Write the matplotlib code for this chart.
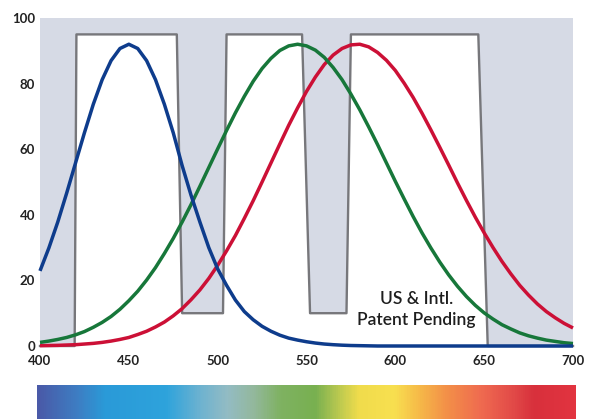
import numpy as np
import matplotlib
matplotlib.use("Agg")
import matplotlib.pyplot as plt
from matplotlib.colors import LinearSegmentedColormap

# ---------------- data ----------------
wavelength = list(range(400, 701, 5))

blue = [22.9, 29.9, 37.8, 46.6, 55.8, 65.0, 73.7, 81.2, 87.0, 90.7,
        92.0, 90.7, 87.0, 81.2, 73.7, 65.0, 55.0, 46.0, 37.8, 30.0,
        23.5, 18.5, 14.0, 10.5, 8.0, 6.0, 4.5, 3.3, 2.4, 1.8,
        1.3, 0.9, 0.6, 0.4, 0.25, 0.15, 0.1, 0.05, 0, 0,
        0, 0, 0, 0, 0, 0, 0, 0, 0, 0,
        0, 0, 0, 0, 0, 0, 0, 0, 0, 0, 0]

green = [1.1, 1.5, 2.0, 2.6, 3.4, 4.4, 5.7, 7.2, 9.0, 11.2,
         13.8, 16.7, 20.1, 23.9, 28.2, 32.8, 37.8, 43.1, 48.7, 54.4,
         60.1, 65.7, 71.1, 76.1, 80.7, 84.6, 87.7, 90.1, 91.5, 92.0,
         91.5, 90.2, 88.0, 84.9, 81.2, 76.8, 72.0, 66.8, 61.4, 55.8,
         50.2, 44.8, 39.5, 34.5, 29.9, 25.6, 21.7, 18.2, 15.1, 12.4,
         10.1, 8.2, 6.5, 5.2, 4.0, 3.1, 2.4, 1.8, 1.4, 1.0, 0.75]

red = [0.1, 0.15, 0.2, 0.3, 0.4, 0.6, 0.8, 1.1, 1.5, 2.0,
       2.6, 3.5, 4.5, 5.8, 7.3, 9.2, 11.4, 14.1, 17.1, 20.6,
       24.6, 29.0, 33.7, 38.9, 44.3, 50.0, 55.8, 61.6, 67.3, 72.6,
       77.6, 82.0, 85.8, 88.7, 90.7, 91.8, 92.0, 91.2, 89.5, 87.1,
       84.0, 80.1, 75.8, 71.0, 65.9, 60.6, 55.2, 49.7, 44.4, 39.3,
       34.5, 30.0, 25.8, 22.0, 18.5, 15.5, 12.8, 10.5, 8.6, 6.9, 5.5]

filter_nm = [400, 419.5, 420.5, 477, 480, 503, 505, 547.5, 552, 572.5, 575, 646.7, 652, 700]
filter_pct = [0, 0, 95, 95, 10, 10, 95, 95, 10, 10, 95, 95, 0, 0]

x_ticks = [400, 450, 500, 550, 600, 650, 700]
y_ticks = [0, 20, 40, 60, 80, 100]

spectrum_nm = [397, 420, 435, 470, 490, 505, 520, 535, 555, 568, 580, 600, 615, 630, 650, 668, 680, 703]
spectrum_col = ["#4a5aa8", "#3d7fc4", "#2a9ad8", "#2ea3dc", "#6fb3d0", "#93bcc4", "#93b89c",
                "#7fb262", "#78b050", "#b8c850", "#f0dc4c", "#f8e050", "#f6b848", "#f39048",
                "#ef6a50", "#e24a48", "#d8303c", "#e23440"]

note = "US & Intl.\nPatent Pending"

# ---------------- figure ----------------
W, H = 593, 419
fig = plt.figure(figsize=(W / 100, H / 100), dpi=100, facecolor="white")

ax = fig.add_axes([40 / W, (H - 346) / H, (573 - 40) / W, (346 - 18) / H])
ax.set_facecolor("#d6dae5")
ax.set_xlim(400, 700)
ax.set_ylim(0, 100)
for s in ax.spines.values():
    s.set_visible(False)

ax.fill_between(filter_nm, 0, filter_pct, color="white", zorder=1, lw=0)
ax.plot(filter_nm, filter_pct, color="#77777b", lw=1.7, zorder=2, clip_on=False)

ax.plot(wavelength, red, color="#cc1036", lw=2.5, zorder=3, clip_on=False, solid_capstyle="butt")
ax.plot(wavelength, green, color="#17773a", lw=2.5, zorder=4, clip_on=False, solid_capstyle="butt")
ax.plot(wavelength, blue, color="#0e3c8c", lw=2.5, zorder=5, clip_on=False, solid_capstyle="butt")

ax.set_xticks(x_ticks)
ax.set_yticks(y_ticks)
ax.set_xticklabels([str(v) for v in x_ticks])
ax.set_yticklabels([str(v) for v in y_ticks])
ax.tick_params(axis="both", length=0, colors="#222222", labelsize=9.5)
ax.tick_params(axis="x", pad=6.5)
ax.tick_params(axis="y", pad=3.5)
for lab in ax.get_xticklabels() + ax.get_yticklabels():
    lab.set_family(["Lato", "DejaVu Sans"])
    lab.set_fontweight("bold")

ax.text(612, 11.2, note, ha="center", va="center", fontsize=12.5, color="#1e1e1e",
        family=["Lato", "DejaVu Sans"], fontweight="semibold", linespacing=1.35, zorder=6)

# spectrum bar
bax = fig.add_axes([37 / W, 0, (576 - 37) / W, (419 - 385) / H])
cmap = LinearSegmentedColormap.from_list(
    "spec", [((n - spectrum_nm[0]) / (spectrum_nm[-1] - spectrum_nm[0]), c)
             for n, c in zip(spectrum_nm, spectrum_col)])
grad = np.linspace(0, 1, 600)[None, :]
bax.imshow(grad, aspect="auto", cmap=cmap, extent=[spectrum_nm[0], spectrum_nm[-1], 0, 1])
bax.set_axis_off()

fig.savefig("out.png", dpi=100, facecolor="white")
